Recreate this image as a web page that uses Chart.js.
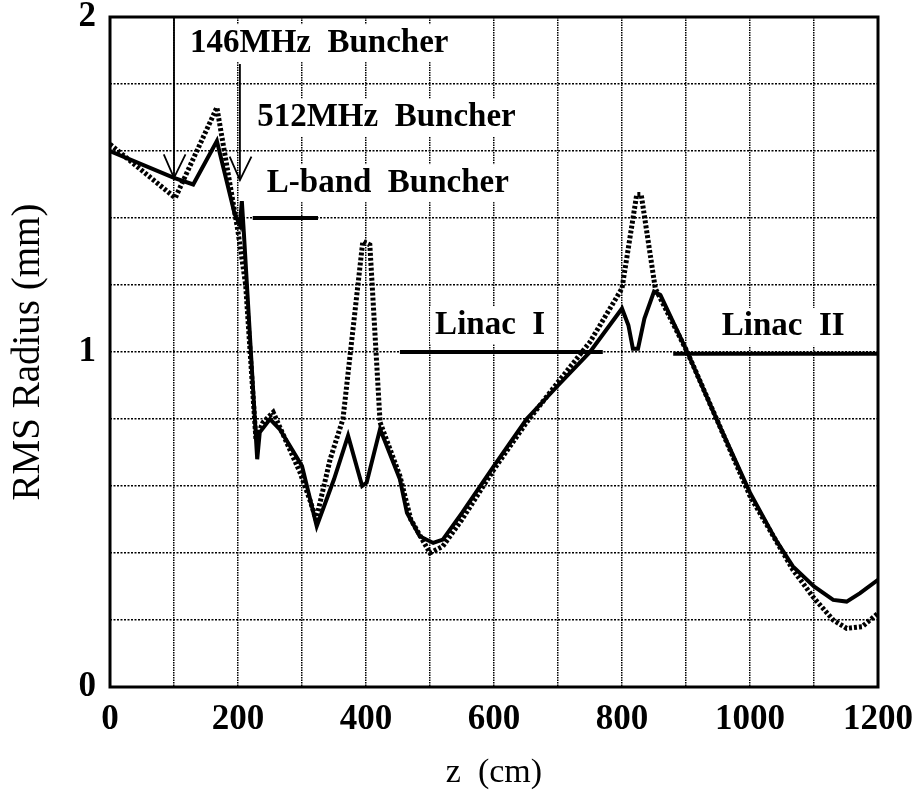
<!DOCTYPE html>
<html>
<head>
<meta charset="utf-8">
<script src="https://cdn.jsdelivr.net/npm/chart.js@4/dist/chart.umd.min.js"></script>
<style>
  html, body { margin: 0; padding: 0; background: #fff; }
  #wrap { width: 917px; height: 799px; }
</style>
</head>
<body>
<div id="wrap"><canvas id="rmsChart"></canvas></div>
<script>
// solid curve
const solidZ = [0, 100, 130, 167, 195, 203, 206, 209, 230, 234, 250, 265, 281, 300, 323, 350, 372, 394, 401, 422, 453, 464, 484, 505, 520, 550, 600, 651, 700, 750, 800, 810, 817, 825, 835, 850, 860, 902, 950, 1000, 1040, 1067, 1100, 1130, 1151, 1172, 1200];
const solidR = [1.60, 1.52, 1.50, 1.63, 1.41, 1.38, 1.45, 1.36, 0.68, 0.76, 0.80, 0.77, 0.72, 0.66, 0.48, 0.62, 0.75, 0.60, 0.61, 0.77, 0.62, 0.52, 0.45, 0.43, 0.44, 0.52, 0.66, 0.80, 0.90, 1.00, 1.13, 1.08, 1.01, 1.01, 1.10, 1.18, 1.17, 1.00, 0.79, 0.58, 0.44, 0.36, 0.30, 0.26, 0.255, 0.28, 0.32];

// dotted curve
const dotZ = [0, 102, 167, 200, 212, 228, 239, 255, 276, 297, 312, 322, 344, 364, 395, 406, 422, 453, 470, 500, 520, 550, 600, 651, 700, 750, 800, 823, 830, 852, 902, 950, 1000, 1067, 1098, 1130, 1151, 1175, 1200];
const dotR = [1.62, 1.46, 1.73, 1.36, 1.20, 0.74, 0.79, 0.82, 0.73, 0.64, 0.56, 0.50, 0.68, 0.80, 1.33, 1.32, 0.79, 0.63, 0.50, 0.40, 0.42, 0.50, 0.65, 0.79, 0.91, 1.03, 1.19, 1.47, 1.47, 1.19, 1.00, 0.79, 0.57, 0.35, 0.27, 0.20, 0.175, 0.18, 0.22];

// section markers (z from, z to, radius)
const markerNames = ['L-band', 'Linac I', 'Linac II'];
const markerZ0 = [223, 453, 880];
const markerZ1 = [325, 770, 1200];
const markerR = [1.40, 1.00, 0.995];

// buncher arrows (z, top radius, tip radius)
const arrowZ = [100, 203];
const arrowTop = [2.0, 1.86];
const arrowTip = [1.52, 1.513];

// text labels
const noteText = ['146MHz  Buncher', '512MHz  Buncher', 'L-band  Buncher', 'Linac  I', 'Linac  II'];
const noteZ = [125, 230, 245, 508, 956];
const noteR = [1.922, 1.70, 1.504, 1.08, 1.075];

const xTickValues = [0, 200, 400, 600, 800, 1000, 1200];
const xTickLabels = ['0', '200', '400', '600', '800', '1000', '1200'];
const yTickValues = [0, 1, 2];
const yTickLabels = ['0', '1', '2'];

const pts = (zs, rs) => zs.map((z, i) => ({ x: z, y: rs[i] }));

const datasets = [
    { data: pts(solidZ, solidR), borderColor: '#000', borderWidth: 4, order: 0 },
    { data: pts(dotZ, dotR), borderColor: '#000', borderWidth: 5, borderDash: [3, 2], order: 1 }
];
markerNames.forEach((n, i) => {
    datasets.push({ data: pts([markerZ0[i], markerZ1[i]], [markerR[i], markerR[i]]), borderColor: '#000', borderWidth: 4, order: 2 });
});
arrowZ.forEach((z, i) => {
    datasets.push({ data: pts([z, z], [arrowTop[i], arrowTip[i]]), borderColor: '#000', borderWidth: 1.8, order: 2 });
    // arrow head
    const d = arrowTip[i] + 0.07;
    datasets.push({ data: pts([z - 16, z, z + 18], [d, arrowTip[i], d]), borderColor: '#000', borderWidth: 1.8, order: 2 });
});

const noteFont = 'bold 33px "Liberation Serif"';

const notes = {
    id: 'notes',
    beforeDatasetsDraw(chart) {
        const { ctx, scales: { x, y } } = chart;
        ctx.save();
        ctx.font = noteFont;
        ctx.fillStyle = '#fff';
        noteText.forEach((t, i) => {
            const w = ctx.measureText(t).width;
            const px = x.getPixelForValue(noteZ[i]);
            const py = y.getPixelForValue(noteR[i]);
            ctx.fillRect(px - 5, py - 19, w + 10, 38);
        });
        ctx.restore();
    },
    afterDatasetsDraw(chart) {
        const { ctx, scales: { x, y }, chartArea: a } = chart;
        ctx.save();
        ctx.font = noteFont;
        ctx.fillStyle = '#000';
        ctx.textBaseline = 'middle';
        noteText.forEach((t, i) => {
            ctx.fillText(t, x.getPixelForValue(noteZ[i]), y.getPixelForValue(noteR[i]));
        });
        ctx.strokeStyle = '#000';
        ctx.lineWidth = 3;
        ctx.strokeRect(a.left, a.top, a.right - a.left, a.bottom - a.top);
        ctx.restore();
    }
};

new Chart(document.getElementById('rmsChart'), {
    type: 'line',
    data: { datasets },
    options: {
        responsive: true,
        maintainAspectRatio: false,
        animation: false,
        layout: { padding: { top: 17, right: 39, left: 0, bottom: 0 } },
        elements: { point: { radius: 0 }, line: { tension: 0, borderCapStyle: 'butt' } },
        plugins: { legend: { display: false }, tooltip: { enabled: false } },
        scales: {
            x: {
                type: 'linear',
                min: 0, max: 1200,
                afterFit: s => { s.height = 112; s.paddingLeft = 0; s.paddingRight = 0; },
                grid: { color: '#000', lineWidth: 1.5, drawTicks: false },
                border: { display: false, dash: [1.5, 1] },
                ticks: {
                    stepSize: 100, autoSkip: false, maxRotation: 0, padding: 12,
                    color: '#000',
                    font: { family: 'Liberation Serif', size: 35, weight: 'bold' },
                    callback: v => {
                        const i = xTickValues.indexOf(v);
                        return i >= 0 ? xTickLabels[i] : '';
                    }
                },
                title: {
                    display: true, text: 'z  (cm)', color: '#000',
                    font: { family: 'Liberation Serif', size: 34 },
                    padding: { top: 0, bottom: 6 }
                }
            },
            y: {
                min: 0, max: 2,
                afterFit: s => { s.width = 110; s.paddingTop = 0; s.paddingBottom = 0; },
                grid: { color: '#000', lineWidth: 1.5, drawTicks: false },
                border: { display: false, dash: [2, 1.5] },
                ticks: {
                    stepSize: 0.2, padding: 14, color: '#000',
                    font: { family: 'Liberation Serif', size: 35, weight: 'bold' },
                    callback: v => {
                        const i = yTickValues.findIndex(t => Math.abs(t - v) < 1e-6);
                        return i >= 0 ? yTickLabels[i] : '';
                    }
                },
                title: {
                    display: true, text: 'RMS Radius (mm)', color: '#000',
                    font: { family: 'Liberation Serif', size: 39 },
                    padding: { top: 5, bottom: 0 }
                }
            }
        }
    },
    plugins: [notes]
});
</script>
</body>
</html>
